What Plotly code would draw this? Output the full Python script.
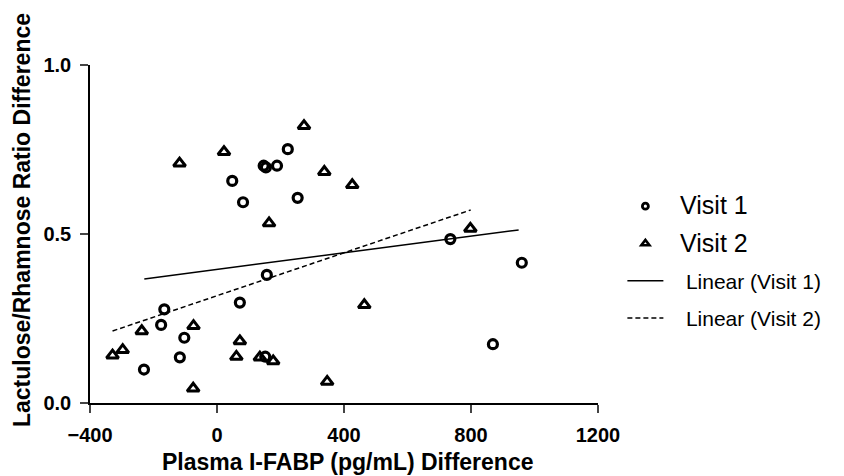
import plotly.graph_objects as go

# Visit 1 (open circles)
v1_x = [223, 147, 154, 189, 48, 82, 254, 157, -166, -176, 72, -103, -117, -230, 152, 735, 960, 869]
v1_y = [0.751, 0.702, 0.697, 0.702, 0.657, 0.594, 0.607, 0.379, 0.277, 0.231, 0.297, 0.193, 0.135, 0.099, 0.137, 0.485, 0.415, 0.174]

# Visit 2 (open triangles)
v2_x = [274, 22, -118, 338, 164, -237, -74, -329, -297, 72, 61, 135, 177, -75, 347, 464, 426, 798]
v2_y = [0.820, 0.743, 0.709, 0.684, 0.532, 0.213, 0.228, 0.141, 0.157, 0.183, 0.137, 0.135, 0.124, 0.043, 0.063, 0.290, 0.645, 0.516]

# Linear fit lines (endpoints)
fit1_x = [-229, 950]
fit1_y = [0.367, 0.512]
fit2_x = [-329, 799]
fit2_y = [0.213, 0.571]

x_ticks = [-400, 0, 400, 800, 1200]
y_ticks = [0.0, 0.5, 1.0]
y_tick_labels = ["0.0", "0.5", "1.0"]

series_names = ["Visit 1", "Visit 2", "Linear (Visit 1)", "Linear (Visit 2)"]
x_title = "Plasma I-FABP (pg/mL) Difference"
y_title = "Lactulose/Rhamnose Ratio Difference"

FONT = "Arial, Liberation Sans, Helvetica, sans-serif"
NB = "\u00a0"

circle_style = dict(symbol="circle-open", color="black")
tri_style = dict(symbol="triangle-up-open", color="black")

fig = go.Figure()
# data marks
fig.add_trace(go.Scatter(
    x=v1_x, y=v1_y, mode="markers", name=series_names[0], showlegend=False,
    marker=dict(size=9, line=dict(width=3.2, color="black"), **circle_style), cliponaxis=False))
fig.add_trace(go.Scatter(
    x=v2_x, y=v2_y, mode="markers", name=series_names[1], showlegend=False,
    marker=dict(size=10.5, line=dict(width=3, color="black"), **tri_style), cliponaxis=False))
fig.add_trace(go.Scatter(
    x=fit1_x, y=fit1_y, mode="lines", name=series_names[2], showlegend=False,
    line=dict(color="black", width=1.5)))
fig.add_trace(go.Scatter(
    x=fit2_x, y=fit2_y, mode="lines", name=series_names[3], showlegend=False,
    line=dict(color="black", width=1.5, dash="5px,3px")))

# legend entries (smaller symbols, as in the reference legend)
fig.add_trace(go.Scatter(
    x=[None], y=[None], mode="markers",
    name=NB * 2 + "<span style='font-size:25px'>" + series_names[0] + "</span>",
    marker=dict(size=6, line=dict(width=2.8, color="black"), **circle_style), legendgroup="a"))
fig.add_trace(go.Scatter(
    x=[None], y=[None], mode="markers",
    name=NB * 2 + "<span style='font-size:25px'>" + series_names[1] + "</span>",
    marker=dict(size=7, line=dict(width=2.6, color="black"), **tri_style), legendgroup="b"))
fig.add_trace(go.Scatter(
    x=[None], y=[None], mode="lines", name=NB * 3 + series_names[2],
    line=dict(color="black", width=1.5), legendgroup="c"))
fig.add_trace(go.Scatter(
    x=[None], y=[None], mode="lines", name=NB * 3 + series_names[3],
    line=dict(color="black", width=1.5, dash="5px,3px"), legendgroup="d"))

fig.update_layout(
    width=844, height=476,
    margin=dict(l=82, r=254, t=57, b=81, autoexpand=False),
    paper_bgcolor="white", plot_bgcolor="white",
    font=dict(family=FONT, color="black"),
    showlegend=True,
    legend=dict(x=1.048, y=0.642, xanchor="left", yanchor="top",
                font=dict(size=21, family=FONT, color="black"),
                tracegroupgap=7, itemwidth=36, bgcolor="rgba(0,0,0,0)"),
    xaxis=dict(range=[-400, 1200], tickvals=x_ticks, ticks="outside", ticklen=8, tickwidth=1.5,
               showline=True, linecolor="black", linewidth=1.5, showgrid=False, zeroline=False,
               ticklabelstandoff=5, automargin=False,
               tickfont=dict(size=20, family=FONT, weight="bold")),
    yaxis=dict(range=[0, 1], tickvals=y_ticks, ticktext=y_tick_labels, ticks="outside", ticklen=8,
               tickwidth=1.5, showline=True, linecolor="black", linewidth=1.5, showgrid=False,
               zeroline=False, ticklabelstandoff=5, automargin=False,
               tickfont=dict(size=20, family=FONT, weight="bold")),
    annotations=[
        dict(text=y_title, textangle=-90, xref="paper", yref="paper",
             x=-0.134, y=0.541, xanchor="center", yanchor="middle", showarrow=False,
             font=dict(size=23, family=FONT, weight="bold", color="black")),
        dict(text=x_title, xref="paper", yref="paper",
             x=0.508, y=-0.175, xanchor="center", yanchor="middle", showarrow=False,
             font=dict(size=23, family=FONT, weight="bold", color="black")),
    ],
)

fig.write_html("out.html")
